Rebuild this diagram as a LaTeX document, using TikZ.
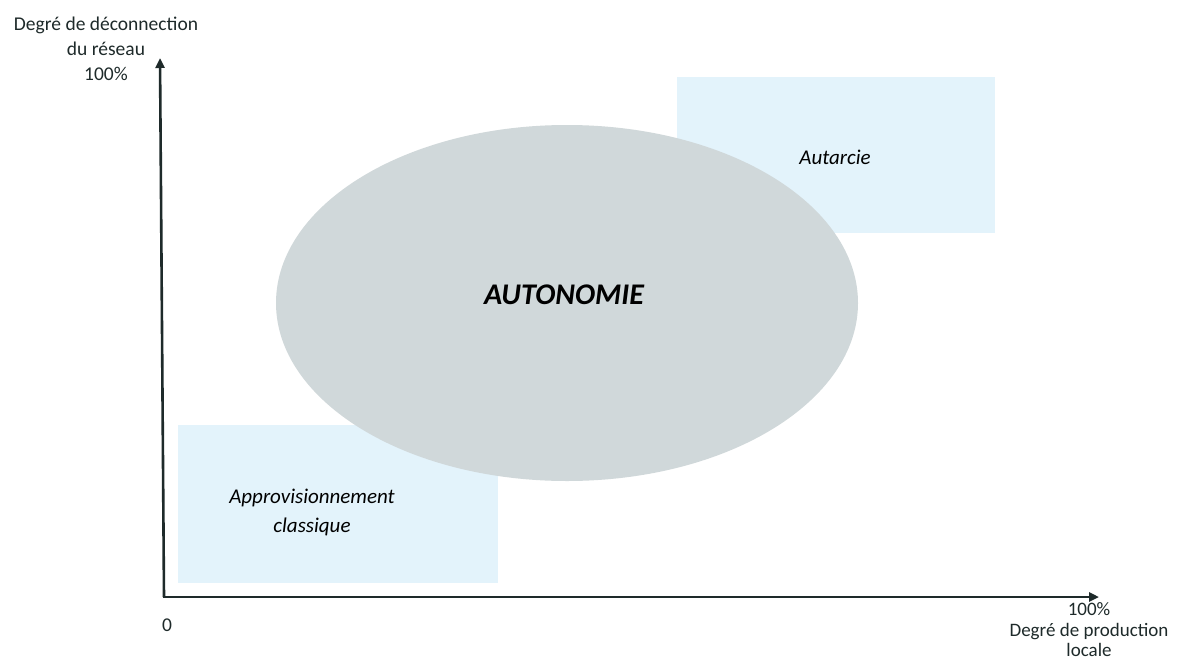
\documentclass[tikz,border=0pt]{standalone}
\usepackage{fontspec}
\setmainfont{Carlito}
\usetikzlibrary{arrows.meta}
\definecolor{zonebleue}{HTML}{E3F3FB}
\definecolor{zonegris}{HTML}{D0D8DA}
\definecolor{texte}{HTML}{1E2A2A}
\begin{document}
\begin{tikzpicture}[x=1pt,y=-1pt,
  axe/.style={line width=2.6pt,-{Triangle[length=10pt,width=9pt]},texte},
  zone/.style={fill=zonebleue,draw=none},
  lbl/.style={font=\fontsize{19.5}{25}\selectfont,text=texte,align=center,inner sep=0pt},
  zlbl/.style={font=\itshape\fontsize{21}{29}\selectfont,text=black,align=center,inner sep=0pt}]
\useasboundingbox (0,0) rectangle (1178,664);
\fill[white] (0,0) rectangle (1178,664);
% zones
\path[zone] (677,77) rectangle (995,233);
\path[zone] (178,425) rectangle (498,583);
\node[zlbl] (autarcie) at (835,157) {Autarcie};
\node[zlbl] (appro) at (312,512) {Approvisionnement\\classique};
% ellipse
\fill[zonegris] (567,303) ellipse [x radius=291, y radius=178];
\node[font=\bfseries\itshape\fontsize{30}{36}\selectfont,inner sep=0pt] (auto) at (564,295) {AUTONOMIE};
% axes
\coordinate (o) at (164,597);
\coordinate (ytop) at (160,58);
\coordinate (xend) at (1099,597);
\draw[axe] (o) -- (ytop);
\draw[axe] ([xshift=-1.3pt]o) -- (xend);
% labels
\node[lbl] (ylab) at (106,49) {Degré de déconnection\\du réseau\\100\%};
\node[lbl] (zero) at (167,625) {0};
\node[lbl,font=\fontsize{19}{20.5}\selectfont] (xlab) at (1089,630) {100\%\\Degré de production\\locale};
\end{tikzpicture}
\end{document}
